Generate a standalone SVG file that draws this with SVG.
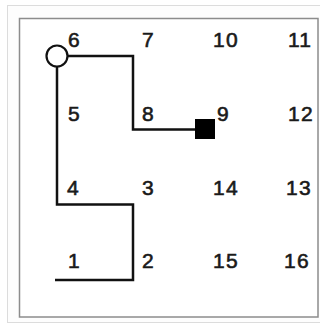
<svg xmlns="http://www.w3.org/2000/svg" width="320" height="325" viewBox="0 0 320 325">
  <style>
    .lbl { font-family: "Liberation Sans", Arial, sans-serif; font-size: 21px; font-weight: normal; fill: #1a1a1a; stroke: #1a1a1a; stroke-width: 0.6px; letter-spacing: 1.2px; }
    .wire { fill: none; stroke: #111; stroke-width: 2.5; stroke-linejoin: miter; }
  </style>
  <rect x="0" y="0" width="320" height="325" fill="#ffffff"/>
  <rect x="7.5" y="5.5" width="320" height="317" fill="#fdfdfd" stroke="#dcdcdc" stroke-width="1"/>
  <rect x="19.5" y="18.5" width="298.5" height="298.5" fill="#ffffff" stroke="#8c8c8c" stroke-width="1.5"/>

  <g id="connectors">
    <path class="wire" d="M67.5 56 H133 V129.5 H196"/>
    <path class="wire" d="M57 66.5 V204.5 H133 V280 H55"/>
  </g>

  <g id="start"><circle cx="57" cy="56" r="10.5" fill="#ffffff" stroke="#111" stroke-width="2.2"/></g>
  <g id="end"><rect x="195" y="119" width="20" height="20" fill="#000"/></g>

  <g id="cell-6"><text class="lbl" x="68" y="47">6</text></g>
  <g id="cell-7"><text class="lbl" x="142" y="47">7</text></g>
  <g id="cell-10"><text class="lbl" x="213" y="47">10</text></g>
  <g id="cell-11"><text class="lbl" x="288" y="47">11</text></g>

  <g id="cell-5"><text class="lbl" x="68" y="121">5</text></g>
  <g id="cell-8"><text class="lbl" x="142" y="121">8</text></g>
  <g id="cell-9"><text class="lbl" x="217" y="121">9</text></g>
  <g id="cell-12"><text class="lbl" x="288" y="121">12</text></g>

  <g id="cell-4"><text class="lbl" x="67" y="195">4</text></g>
  <g id="cell-3"><text class="lbl" x="142" y="195">3</text></g>
  <g id="cell-14"><text class="lbl" x="213" y="195">14</text></g>
  <g id="cell-13"><text class="lbl" x="286" y="195">13</text></g>

  <g id="cell-1"><text class="lbl" x="68" y="268">1</text></g>
  <g id="cell-2"><text class="lbl" x="142" y="268">2</text></g>
  <g id="cell-15"><text class="lbl" x="213" y="268">15</text></g>
  <g id="cell-16"><text class="lbl" x="284" y="268">16</text></g>
</svg>
